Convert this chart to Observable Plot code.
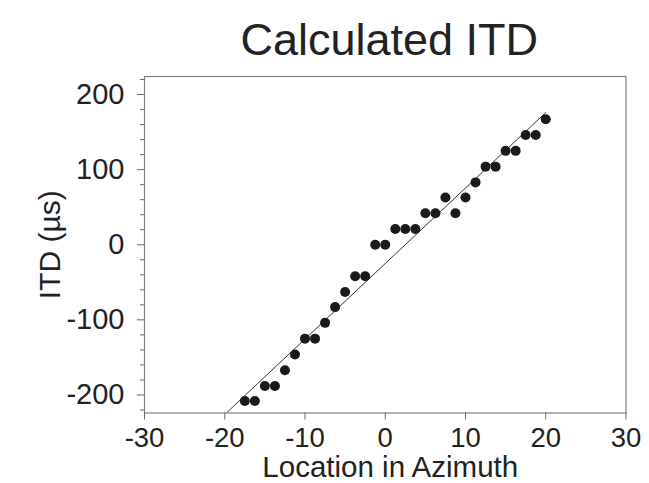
<!DOCTYPE html>
<html>
<head>
<meta charset="utf-8">
<script src="https://cdn.jsdelivr.net/npm/d3@7"></script>
<script src="https://cdn.jsdelivr.net/npm/@observablehq/plot@0.6"></script>
<style>
  body { margin: 0; background: #fff; }
  #chart svg { display: block; }
</style>
</head>
<body>
<div id="chart"></div>
<script>
// Measured points: location in azimuth (deg) and calculated ITD (µs)
const azimuth = [-17.5, -16.25, -15, -13.75, -12.5, -11.25, -10, -8.75, -7.5, -6.25, -5, -3.75, -2.5, -1.25, 0,
  1.25, 2.5, 3.75, 5, 6.25, 7.5, 8.75, 10, 11.25, 12.5, 13.75, 15, 16.25, 17.5, 18.75, 20];
const itd = [-208, -208, -188, -188, -167, -146, -125, -125, -104, -83, -63, -42, -42, 0, 0,
  21, 21, 21, 42, 42, 63, 42, 63, 83, 104, 104, 125, 125, 146, 146, 167];

// Fitted line endpoints
const fitAzimuth = [-20, 20];
const fitItd = [-226, 176];

// Tick labels
const xTicks = [-30, -20, -10, 0, 10, 20, 30];
const yTicks = [-200, -100, 0, 100, 200];
const yMinorTicks = [-220, -180, -160, -140, -120, -80, -60, -40, -20, 20, 40, 60, 80, 120, 140, 160, 180, 220];

const titleText = "Calculated ITD";
const xLabel = "Location in Azimuth";
const yLabel = "ITD (µs)";

const points = azimuth.map((a, i) => ({a, v: itd[i]}));
const fit = fitAzimuth.map((a, i) => ({a, v: fitItd[i]}));
const fmt = d => String(d);

const chart = Plot.plot({
  width: 649,
  height: 483,
  marginLeft: 144,
  marginRight: 23.5,
  marginTop: 76,
  marginBottom: 70.5,
  style: {fontFamily: "'Liberation Sans', Arial, sans-serif", color: "#222", background: "#fff"},
  x: {domain: [-30, 30]},
  y: {domain: [-224, 224]},
  marks: [
    Plot.frame({stroke: "#808080", strokeWidth: 1.2}),
    Plot.axisX({ticks: xTicks, tickFormat: fmt, tickSize: 7, tickPadding: 7, fontSize: 27.5, label: null, stroke: "#666"}),
    Plot.axisY({ticks: yTicks, tickFormat: fmt, tickSize: 7, tickPadding: 13, fontSize: 29, label: null, stroke: "#666"}),
    Plot.axisY({ticks: yMinorTicks, tickSize: 4, tickFormat: () => "", label: null, stroke: "#666"}),
    Plot.axisY({ticks: [], label: yLabel, labelAnchor: "center", labelArrow: "none", labelOffset: 106, fontSize: 30}),
    Plot.line(fit, {x: "a", y: "v", stroke: "#333", strokeWidth: 1, clip: true}),
    Plot.dot(points, {x: "a", y: "v", r: 5, fill: "#1a1a1a", stroke: "none"}),
    Plot.text([titleText], {text: d => d, frameAnchor: "top", lineAnchor: "bottom", dy: -22, dx: 4, fontSize: 45, fill: "#222"}),
    Plot.text([xLabel], {text: d => d, frameAnchor: "bottom", lineAnchor: "bottom", dy: 64, dx: 5, fontSize: 29.5, fill: "#222"})
  ]
});
document.getElementById("chart").appendChild(chart);
</script>
</body>
</html>
